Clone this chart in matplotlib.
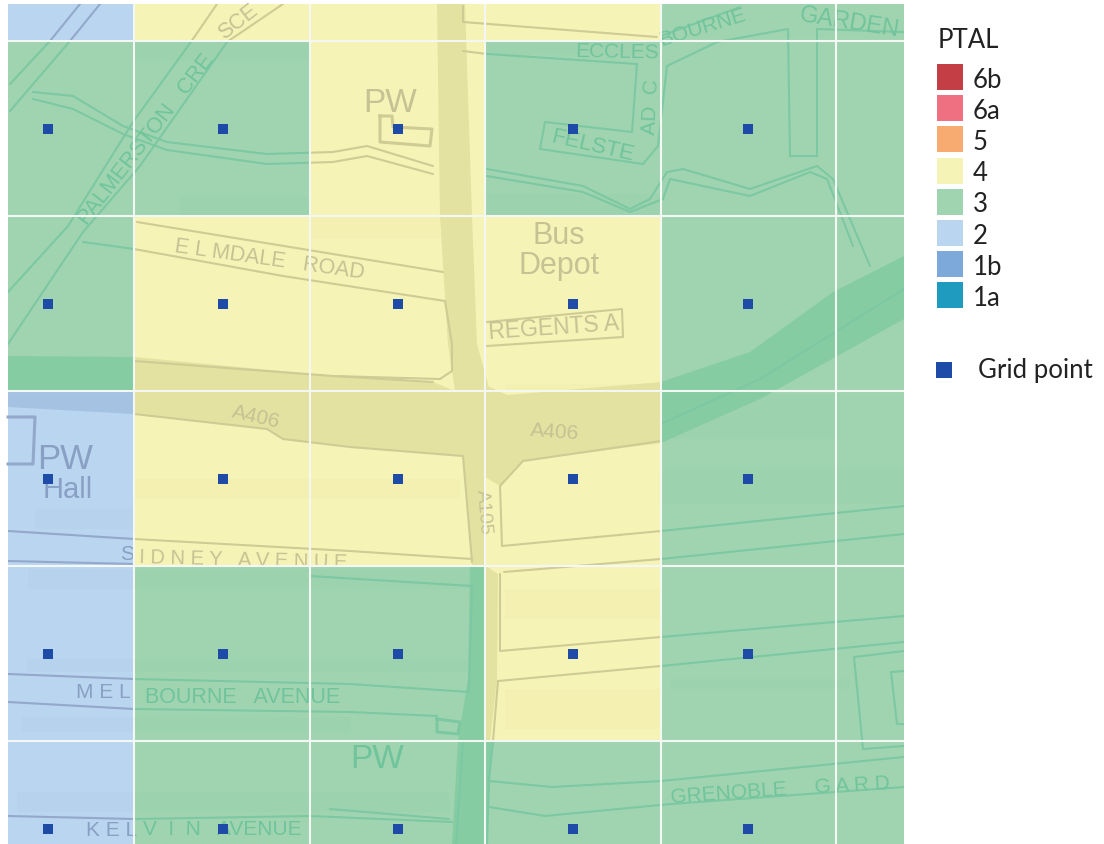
import matplotlib
matplotlib.use("Agg")
import matplotlib.pyplot as plt
import numpy as np
from matplotlib.colors import ListedColormap, BoundaryNorm
from matplotlib.path import Path
from matplotlib.patches import Rectangle
from matplotlib.transforms import Bbox, TransformedBbox

# ---- PTAL classes ----
ptal_labels = ["6b", "6a", "5", "4", "3", "2", "1b", "1a"]
ptal_colors = ["#c43f45", "#ef7080", "#f7ab70", "#f6f3b6", "#a0d4b0", "#b9d5ef", "#7da9da", "#1f9bbf"]

# ---- grid (reference-map pixels) ----
col_edges = [8, 134, 310, 485, 661, 904]
row_edges = [5, 42, 217, 392, 567, 742, 845]
ptal_grid = [
    ["2", "4", "4", "4", "3"],
    ["3", "3", "4", "3", "3"],
    ["3", "4", "4", "4", "3"],
    ["2", "4", "4", "4", "3"],
    ["2", "3", "3", "4", "3"],
    ["2", "3", "3", "3", "3"],
]
white_v = [134, 310, 485, 661, 836]
white_h = [42, 217, 392, 567, 742]
grid_x = [48, 223, 398, 573, 748]
grid_y = [130, 305, 480, 655, 830]

# ---- map base: per-zone shades ----
zone_line = {"2": "#93a8cb", "3": "#7cc8a2", "4": "#cfcb94"}
zone_band = {"2": "#a6c2e2", "3": "#86cca2", "4": "#e4e2a0"}
zone_text = {"2": "#8a9fc4", "3": "#6fc49c", "4": "#c6c294"}

bands = [
    [(437, 5), (465, 5), (472, 217), (477, 345), (490, 392), (497, 440), (485, 470), (486, 567), (472, 567), (463, 457), (455, 392), (448, 345), (440, 217)],
    [(470, 567), (486, 567), (498, 575), (497, 680), (490, 742), (458, 742), (468, 680)],
    [(458, 742), (492, 742), (487, 845), (452, 845)],
    [(8, 357), (134, 358), (333, 377), (433, 383), (455, 392), (490, 388), (507, 396), (661, 383), (750, 353), (833, 293), (904, 257),
     (904, 320), (760, 400), (661, 444), (523, 462), (500, 487), (472, 470), (463, 457), (350, 448), (283, 440), (267, 430), (134, 415), (8, 408)],
]

# lighter built-up blocks (x0, y0, x1, y1)
soft_blocks = [
    (35, 510, 134, 530), (28, 570, 134, 590), (27, 660, 134, 673), (22, 718, 134, 733), (17, 793, 134, 813),
    (134, 660, 470, 673), (134, 718, 350, 733), (134, 793, 450, 813), (134, 570, 470, 590),
    (134, 42, 310, 62), (180, 198, 310, 217), (487, 42, 661, 56), (487, 195, 661, 217),
    (663, 470, 904, 505), (663, 395, 840, 440), (10, 370, 134, 390),
    (310, 217, 440, 240), (134, 480, 460, 500), (505, 385, 661, 392),
    (505, 590, 661, 620), (505, 690, 661, 730), (670, 680, 850, 690),
]

roads = [
    # Palmerston Crescent
    [(8, 293), (68, 227), (133, 123), (193, 40), (217, 5)],
    [(8, 345), (83, 233), (140, 167), (227, 43), (283, 5)],
    [(80, 5), (50, 42), (10, 85)],
    [(100, 5), (70, 42), (10, 112)],
    # Elmdale Road
    [(83, 243), (134, 250), (283, 277), (445, 302), (452, 345), (452, 372), (440, 380), (333, 377)],
    [(137, 223), (443, 273)],
    # winding path
    [(33, 93), (73, 97), (123, 127), (167, 143), (267, 155), (333, 153), (367, 147), (433, 167)],
    [(33, 100), (73, 110), (123, 135), (167, 151), (267, 165), (333, 163), (367, 157), (433, 175)],
    [(487, 170), (583, 187), (630, 210), (650, 200), (667, 173), (683, 170), (750, 190), (817, 167), (833, 180), (870, 267)],
    [(487, 177), (583, 193), (630, 213), (663, 200), (670, 180), (750, 197), (810, 173), (827, 180), (853, 247)],
    # Felstead / Ecclesbourne
    [(488, 55), (637, 65), (632, 133), (545, 123), (540, 150), (643, 165), (658, 147), (667, 67), (717, 43), (788, 30), (790, 157), (817, 157), (817, 30), (904, 33)],
    [(661, 37), (740, 8)],
    [(463, 7), (463, 23), (657, 38)],
    [(463, 52), (487, 55)],
    # Regents
    [(487, 323), (622, 310), (623, 338), (487, 347)],
    # A406 edges
    [(134, 362), (333, 377), (433, 383)],
    [(134, 415), (267, 430), (283, 440), (350, 448), (463, 457), (472, 563)],
    [(661, 442), (523, 462), (500, 487), (502, 547), (661, 532)],
    [(504, 573), (661, 560)],
    [(500, 575), (500, 652), (661, 638)],
    [(498, 682), (661, 667)],
    [(498, 682), (493, 742)],
    # Sidney / Melbourne / Kelvin
    [(8, 532), (134, 540), (350, 552), (472, 560)],
    [(8, 562), (134, 565)],
    [(310, 577), (472, 587), (469, 693), (350, 685), (134, 680), (8, 675)],
    [(8, 703), (134, 710), (350, 713), (437, 717)],
    [(8, 817), (134, 820), (310, 817), (452, 823)],
    [(330, 810), (449, 820)],
    # east streets
    [(661, 532), (904, 507)],
    [(661, 560), (904, 535)],
    [(661, 638), (904, 617)],
    [(661, 667), (904, 643)],
    [(904, 652), (854, 658), (863, 750), (904, 747)],
    [(904, 672), (891, 673), (897, 725), (904, 725)],
    # Grenoble Gardens
    [(489, 782), (552, 788), (661, 782), (904, 758)],
    [(489, 808), (545, 817), (671, 805), (904, 788)],
    # A105 south
    [(456, 845), (463, 743)],
    [(493, 743), (489, 780), (487, 845)],
    # line along the eastern band
    [(661, 425), (760, 380), (904, 290)],
]

buildings = [
    ([(380, 117), (392, 117), (393, 128), (432, 130), (430, 147), (380, 143), (380, 117)], "4"),
    ([(8, 418), (35, 418), (33, 465), (8, 465)], "2"),
    ([(437, 720), (460, 723), (458, 735), (437, 733), (437, 720)], "3"),
]

# label, x, y, rotation, size, zone
map_labels = [
    ("PW", 390, 103, 0, 24, "4"),
    ("Bus\nDepot", 559, 251, 0, 22, "4"),
    ("PW", 65, 460, 0, 25, "2"),
    ("Hall", 68, 490, 0, 21, "2"),
    ("PW", 377, 760, 0, 24, "3"),
    ("E L MDALE   ROAD", 270, 260, -8, 15.5, "4"),
    ("PALMERSTON   CRE", 146, 140, 52.5, 15.5, "3"),
    ("SCE", 238, 22, 38, 15.5, "4"),
    ("ECCLES", 617, 52, -1, 15, "3"),
    ("BOURNE", 703, 28, 17, 15, "3"),
    ("GARDEN", 850, 23, -9, 17, "3"),
    ("AD  C", 651, 107, 87, 15, "3"),
    ("FELSTE", 592, 146, -13, 16, "3"),
    ("REGENTS A", 554, 328, 4, 16.5, "4"),
    ("A406", 256, 417, -13, 15, "4"),
    ("A406", 555, 432, -4, 15, "4"),
    ("A105", 483, 512, -85, 14, "4"),
    ("S", 127, 555, 0, 15, "2"),
    ("M E L", 103, 693, 0, 15, "2"),
    ("BOURNE   AVENUE", 243, 698, 0, 15.5, "3"),
    ("K E L", 112, 831, 0, 15, "2"),
    ("V  I  N   AVENUE", 222, 830, 0, 15, "3"),
    ("GRENOBLE", 729, 793, 4, 15, "3"),
    ("G A R D", 852, 786, 3, 15, "3"),
]
sidney_label = ("I D N E Y   A V E N U E", 243, 560, -1.5, 14.5, "4")

grid_point_label = "Grid point"
legend_title = "PTAL"
map_font = "Liberation Sans"
ui_font = "Lato"

fig = plt.figure(figsize=(11.04, 8.45), dpi=100, facecolor="white")
ax = fig.add_axes([0, 0, 1, 1])
ax.set_xlim(0, 1104)
ax.set_ylim(845, 0)
ax.axis("off")

# PTAL surface
cmap = ListedColormap(ptal_colors)
norm = BoundaryNorm(np.arange(len(ptal_labels) + 1) - 0.5, cmap.N)
codes = np.array([[ptal_labels.index(v) for v in row] for row in ptal_grid])
ax.pcolormesh(col_edges, row_edges, codes, cmap=cmap, norm=norm, zorder=1, linewidth=0, antialiased=False)


def zone_clip(zone):
    rects = []
    for r, row in enumerate(ptal_grid):
        for c, v in enumerate(row):
            if v == zone:
                x0, x1, y0, y1 = col_edges[c], col_edges[c + 1], row_edges[r], row_edges[r + 1]
                rects.append(Path([(x0, y0), (x1, y0), (x1, y1), (x0, y1), (x0, y0)], closed=True))
    return Path.make_compound_path(*rects)


for zone in zone_line:
    clip = zone_clip(zone)
    for x0, y0, x1, y1 in soft_blocks:
        p = ax.add_patch(Rectangle((x0, y0), x1 - x0, y1 - y0, fc=zone_band[zone], ec="none", alpha=0.15, zorder=1.5))
        p.set_clip_path(clip, ax.transData)
    for poly in bands:
        p = ax.fill([q[0] for q in poly], [q[1] for q in poly], color=zone_band[zone], lw=0, zorder=2)[0]
        p.set_clip_path(clip, ax.transData)
    for r in roads:
        l, = ax.plot([q[0] for q in r], [q[1] for q in r], color=zone_line[zone], lw=1.5, zorder=3, solid_capstyle="round")
        l.set_clip_path(clip, ax.transData)

for pts, z in buildings:
    ax.plot([q[0] for q in pts], [q[1] for q in pts], color=zone_line[z], lw=2.2, zorder=3)

for txt, x, y, rot, size, z in map_labels:
    ax.text(x, y, txt, rotation=rot, rotation_mode="anchor", ha="center", va="center", multialignment="center",
            linespacing=0.98, fontsize=size, color=zone_text[z], family=map_font, zorder=4)

txt, x, y, rot, size, z = sidney_label
t = ax.text(x, y, txt, rotation=rot, rotation_mode="anchor", ha="center", va="center",
            fontsize=size, color=zone_text[z], family=map_font, zorder=4, clip_on=True)
t.set_clip_box(TransformedBbox(Bbox([[134, 392], [485, 567]]), ax.transData))

# white grid
ax.vlines(white_v, row_edges[0], row_edges[-1], color="#f4f8f4", lw=1.5, zorder=5)
ax.hlines(white_h, col_edges[0], col_edges[-1], color="#f4f8f4", lw=1.5, zorder=5)

# grid points
gx, gy = np.meshgrid(grid_x, grid_y)
ax.plot(gx.ravel(), gy.ravel(), ls="none", marker="s", ms=7.6, mew=0, color="#1f4ba8", zorder=6)

# legend
ax.text(938, 41, legend_title, fontsize=18.5, family=ui_font, color="#222222", va="center", ha="left")
for i, (lab, colr) in enumerate(zip(ptal_labels, ptal_colors)):
    yc = 78 + i * 31.2
    ax.add_patch(Rectangle((937, yc - 13), 26, 26, fc=colr, ec="none", zorder=2))
    ax.text(973, yc + 2, lab, fontsize=18.5, family=ui_font, color="#222222", va="center", ha="left")
ax.plot([944], [371], ls="none", marker="s", ms=11.5, mew=0, color="#1f4ba8")
ax.text(978, 371, grid_point_label, fontsize=18.5, family=ui_font, color="#222222", va="center", ha="left")

fig.savefig("out.png", dpi=100)
